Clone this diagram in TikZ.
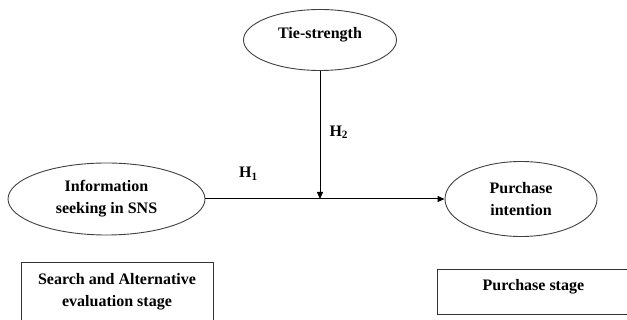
\documentclass[tikz,border=0pt]{standalone}
\usepackage{fontspec}
\setmainfont{Liberation Serif}
\usepackage{tikz}
\usetikzlibrary{shapes.geometric, arrows.meta, positioning}
\definecolor{edgegray}{HTML}{404040}

\begin{document}
\begin{tikzpicture}[
    x=1pt, y=-1pt,
    txt/.style={font=\fontsize{16}{22}\selectfont\bfseries},
    construct/.style={ellipse,draw=edgegray,line width=0.9pt,inner sep=0pt,align=center,txt},
    stage/.style={rectangle,draw=black!80,line width=0.9pt,inner sep=0pt,align=center,txt},
    hyp/.style={inner sep=0pt,txt},
    link/.style={-{Triangle[length=7pt,width=6pt]},line width=1pt,black},
  ]
    \useasboundingbox (0,0) rectangle (627,320);

    % constructs
    \node[construct,minimum width=153,minimum height=61,text height=11pt,text depth=14pt] (tie) at (320,40) {Tie-strength};
    \node[construct,minimum width=197,minimum height=72] (info) at (106.5,199) {Information\\seeking in SNS};
    \node[construct,minimum width=152,minimum height=75] (intent) at (521,199) {Purchase\\intention};

    % stages
    \node[stage,minimum width=192,minimum height=60] (searchstage) at (117,292) {Search and Alternative\\evaluation stage};
    \node[stage,anchor=north west,minimum width=192,text height=21.5pt,text depth=23.5pt] (purchstage) at (437,269) {Purchase stage};

    \coordinate (meet) at (tie.south |- info.east);
    \draw[link] (info.east) -- node[hyp,pos=0.18,above=18pt] {H\textsubscript{1}} (intent.west);
    \draw[link] (tie.south) -- node[hyp,pos=0.48,right=9pt] {H\textsubscript{2}} (meet);
\end{tikzpicture}
\end{document}
